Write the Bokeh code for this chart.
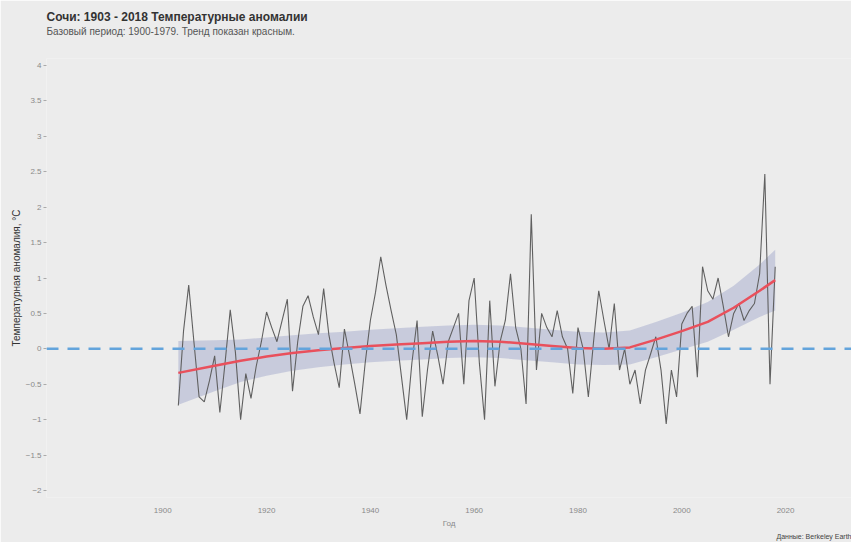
from bokeh.plotting import figure
from bokeh.models import FixedTicker, Span, Range1d, Title
from bokeh.embed import file_html
from bokeh.resources import INLINE

# ---- data ----
start_year = 1903
anomaly = [
    -0.80, 0.25, 0.90, 0.10, -0.68, -0.75, -0.45, -0.10, -0.90, -0.20,   # 1903-1912
    0.55, -0.05, -1.00, -0.35, -0.70, -0.25, 0.10, 0.52, 0.30, 0.10,     # 1913-1922
    0.40, 0.70, -0.60, 0.10, 0.60, 0.75, 0.45, 0.20, 0.85, 0.20,         # 1923-1932
    -0.20, -0.55, 0.28, -0.10, -0.50, -0.92, -0.20, 0.40, 0.80, 1.30,    # 1933-1942
    0.90, 0.54, 0.20, -0.40, -1.00, -0.20, 0.40, -0.96, -0.30, 0.25,     # 1943-1952
    -0.10, -0.50, 0.10, 0.30, 0.50, -0.50, 0.68, 1.00, -0.20, -1.00,     # 1953-1962
    0.68, -0.53, 0.10, 0.40, 1.06, 0.30, 0.00, -0.78, 1.90, -0.30,       # 1963-1972
    0.50, 0.30, 0.17, 0.54, 0.17, 0.00, -0.63, 0.30, 0.00, -0.68,        # 1973-1982
    0.10, 0.82, 0.40, 0.00, 0.64, -0.30, 0.00, -0.50, -0.30, -0.78,      # 1983-1992
    -0.30, -0.07, 0.17, -0.30, -1.06, -0.30, -0.68, 0.35, 0.50, 0.60,    # 1993-2002
    -0.40, 1.16, 0.82, 0.70, 1.00, 0.60, 0.17, 0.50, 0.64, 0.40,         # 2003-2012
    0.54, 0.64, 1.06, 2.47, -0.50, 1.16,                                 # 2013-2018
]
years = [start_year + i for i in range(len(anomaly))]

trend_years = [1903, 1910, 1915, 1920, 1925, 1930, 1935, 1940, 1945, 1950, 1955, 1960,
               1965, 1970, 1975, 1980, 1985, 1990, 1995, 2000, 2005, 2010, 2015, 2018]
trend = [-0.34, -0.24, -0.17, -0.11, -0.06, -0.02, 0.01, 0.04, 0.06, 0.08, 0.10, 0.11,
         0.10, 0.07, 0.04, 0.01, 0.00, 0.02, 0.13, 0.25, 0.38, 0.58, 0.82, 0.97]
trend_halfwidth = [0.45, 0.36, 0.30, 0.27, 0.25, 0.24, 0.23, 0.23, 0.23, 0.23, 0.23, 0.23,
                   0.23, 0.23, 0.23, 0.23, 0.23, 0.24, 0.25, 0.26, 0.28, 0.31, 0.37, 0.43]
trend_lower = [t - h for t, h in zip(trend, trend_halfwidth)]
trend_upper = [t + h for t, h in zip(trend, trend_halfwidth)]

x_ticks = [1900, 1920, 1940, 1960, 1980, 2000, 2020]
y_ticks = [-2.0, -1.5, -1.0, -0.5, 0, 0.5, 1.0, 1.5, 2.0, 2.5, 3.0, 3.5, 4.0]

title_text = "Сочи: 1903 - 2018 Температурные аномалии"
subtitle_text = "Базовый период: 1900-1979. Тренд показан красным."
source_text = "Данные: Berkeley Earth"

X0, X1 = 1877.6, 2032.7
Y0, Y1 = -2.1, 4.1
BG = "#ececec"

p = figure(width=851, height=542, output_backend="svg", toolbar_location=None,
           x_range=Range1d(X0, X1), y_range=Range1d(Y0, Y1),
           background_fill_color=BG, border_fill_color=BG,
           min_border_left=46, min_border_right=0, min_border_top=58, min_border_bottom=45)
p.outline_line_color = None
p.grid.visible = False

# titles: spacer nearest the frame, then subtitle, then main title
p.add_layout(Title(text=" ", text_font_size="8px", standoff=11), "above")
p.add_layout(Title(text=subtitle_text, text_font="Liberation Sans", text_font_size="10px",
                   text_font_style="normal", text_color="#555555", offset=0, standoff=0), "above")
p.add_layout(Title(text=title_text, text_font="Liberation Sans", text_font_size="12px",
                   text_font_style="bold", text_color="#333333", offset=0, standoff=0), "above")

# confidence band + series + trend
p.varea(x=trend_years, y1=trend_lower, y2=trend_upper, fill_color="#b9bdd6", fill_alpha=0.7)
p.line(years, anomaly, line_color="#606060", line_width=1.1)
p.add_layout(Span(location=0, dimension="width", line_color="#63a4dc",
                  line_dash="12 9", line_width=2.5))
p.line(trend_years, trend, line_color="#e9505c", line_width=2.5)

# axes
p.xaxis.ticker = FixedTicker(ticks=x_ticks)
p.yaxis.ticker = FixedTicker(ticks=y_ticks)
for ax in (p.xaxis[0], p.yaxis[0]):
    ax.axis_line_color = None
    ax.minor_tick_line_color = None
    ax.minor_tick_out = 0
    ax.minor_tick_in = 0
    ax.major_label_text_font = "Liberation Sans"
    ax.major_label_text_font_size = "8px"
    ax.major_label_text_color = "#8a8a8a"
    ax.axis_label_text_font = "Liberation Sans"
    ax.axis_label_text_font_style = "normal"
p.xaxis.major_tick_line_color = None
p.xaxis.major_tick_out = 0
p.xaxis.major_tick_in = 0
p.xaxis.major_label_standoff = 10
p.xaxis.axis_label = "Год"
p.xaxis.axis_label_text_font_size = "8px"
p.xaxis.axis_label_text_color = "#8a8a8a"
p.xaxis.axis_label_standoff = 3
p.yaxis.major_tick_line_color = "#aaaaaa"
p.yaxis.major_tick_in = 0
p.yaxis.major_tick_out = 3
p.yaxis.major_label_standoff = 2
p.yaxis.axis_label = "Температурная аномалия, °C"
p.yaxis.axis_label_text_font_size = "10px"
p.yaxis.axis_label_text_color = "#333333"
p.yaxis.axis_label_standoff = 1

p.add_layout(Title(text=source_text, text_font="Liberation Sans", text_font_size="7px",
                   text_font_style="normal", text_color="#444444", align="right",
                   standoff=0), "below")

open("out.html", "w").write(file_html(p, INLINE))
